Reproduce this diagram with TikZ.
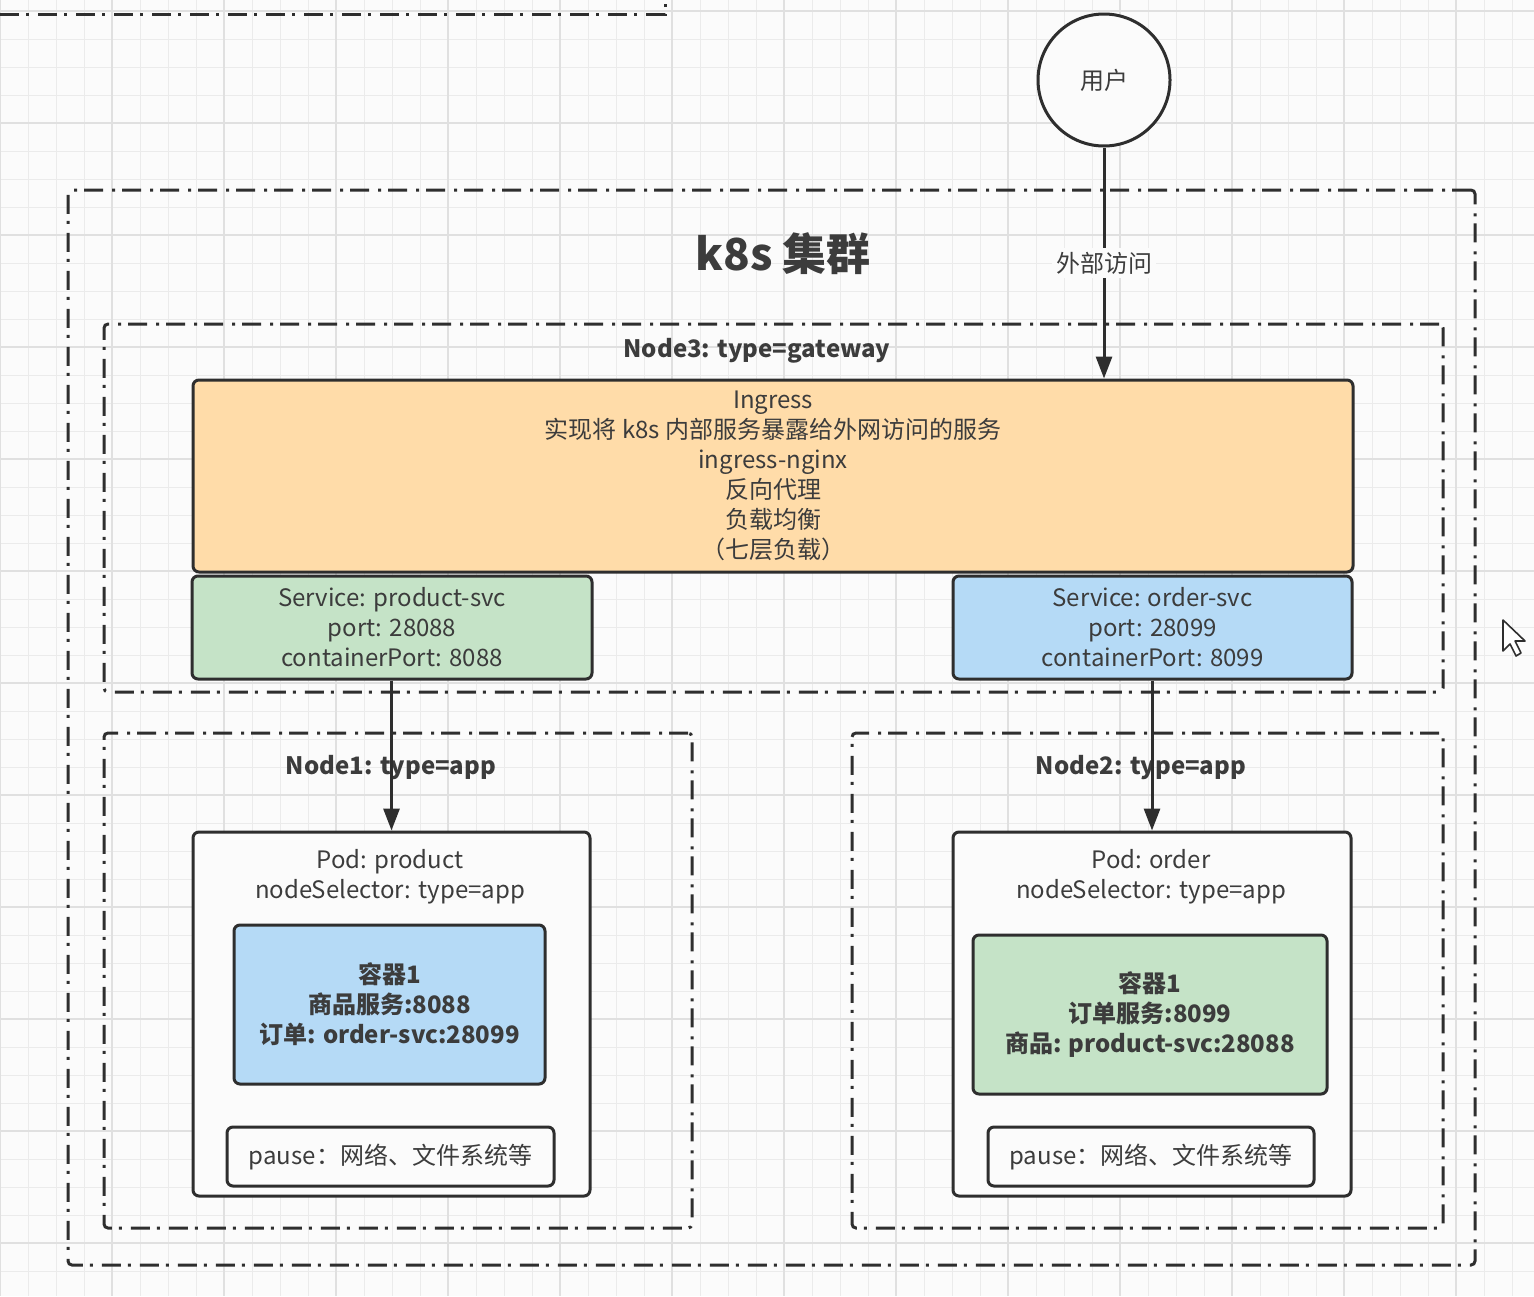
\documentclass[tikz,border=0pt]{standalone}
\usepackage{fontspec}
\setmainfont{Noto Sans CJK SC}
\usetikzlibrary{arrows.meta}
\definecolor{bgcol}{HTML}{FBFBFB}
\definecolor{gridminor}{HTML}{EBEBEB}
\definecolor{gridmajor}{HTML}{E0E0E0}
\definecolor{ink}{HTML}{2E2E2E}
\definecolor{txt}{HTML}{3C3C3C}
\definecolor{peach}{HTML}{FFDCA9}
\definecolor{mint}{HTML}{C5E3C7}
\definecolor{sky}{HTML}{B5DAF6}
\tikzset{
  body/.style={font=\fontsize{12}{15}\selectfont, text=txt, align=center},
  boldbody/.style={font=\fontsize{12}{15}\selectfont\bfseries, text=txt, align=center},
  boldlabel/.style={font=\fontsize{12}{15}\selectfont\bfseries, text=txt, align=center, inner sep=0pt},
  solidbox/.style={draw=ink, line width=1.5pt, rounded corners=3pt, inner sep=0pt, body},
  zone/.style={draw=ink, line width=1.5pt, rounded corners=2pt, inner sep=0pt,
    dash pattern=on 9.5pt off 3.5pt on 1.5pt off 4.5pt},
  link/.style={draw=ink, line width=1.5pt, -{Triangle[length=11pt,width=8pt]}},
}
\begin{document}
\begin{tikzpicture}[x=0.5pt,y=-0.5pt]
\useasboundingbox (0,0) rectangle (1534,1296);
\fill[bgcol] (0,0) rectangle (1534,1296);
% background grid
\foreach \i in {0,...,54} \draw[gridminor, line width=0.5pt] (28*\i,0) -- (28*\i,1296);
\foreach \j in {0,...,46} \draw[gridminor, line width=0.5pt] (0,11+28*\j) -- (1534,11+28*\j);
\foreach \i in {0,...,13} \draw[gridmajor, line width=0.6pt] (112*\i,0) -- (112*\i,1296);
\foreach \j in {0,...,11} \draw[gridmajor, line width=0.6pt] (0,11+112*\j) -- (1534,11+112*\j);

% edge of a neighbouring frame
\draw[ink, line width=1.5pt, dash pattern=on 9.5pt off 3.5pt on 1.5pt off 4.5pt] (0,14) -- (665,14) -- (665,0);

% cluster and machines
\node[zone, minimum width=703.5pt, minimum height=537.5pt] (cluster) at (771.5,727.5) {};
\node[font=\fontsize{22}{24}\selectfont\bfseries, text=txt, inner sep=0pt] (title) at (783,254) {k8s 集群};

\node[zone, minimum width=669.5pt, minimum height=184pt] (node3) at (773.5,508) {};
\node[boldlabel] (node3lbl) at (757,351) {Node3: type=gateway};

\node[zone, minimum width=294pt, minimum height=247.5pt] (node1) at (398,980.5) {};
\node[zone, minimum width=295.5pt, minimum height=247.5pt] (node2) at (1147.5,980.5) {};

% user
\node[circle, draw=ink, line width=1.5pt, fill=bgcol, minimum size=66pt, inner sep=0pt, body] (user) at (1104,80) {用户};

% gateway
\node[solidbox, fill=peach, minimum width=580pt, minimum height=96pt] (ing) at (773,476)
  {Ingress\\实现将 k8s 内部服务暴露给外网访问的服务\\ingress-nginx\\反向代理\\负载均衡\\（七层负载）};
\node[solidbox, fill=mint, minimum width=200pt, minimum height=51.5pt] (svcp) at (392,627.5)
  {Service: product-svc\\port: 28088\\containerPort: 8088};
\node[solidbox, fill=sky, minimum width=199.5pt, minimum height=51.5pt] (svco) at (1152.5,627.5)
  {Service: order-svc\\port: 28099\\containerPort: 8099};

% pods
\node[solidbox, fill=bgcol, minimum width=198.5pt, minimum height=182pt] (podp) at (391.5,1014) {};
\node[body, inner sep=0pt] (podptxt) at (390,877) {Pod: product\\nodeSelector: type=app};
\node[solidbox, fill=sky, minimum width=155.5pt, minimum height=79.5pt, boldbody] (ctp) at (389.5,1004.5)
  {容器1\\商品服务:8088\\订单: order-svc:28099};
\node[solidbox, fill=bgcol, minimum width=163.5pt, minimum height=29.5pt] (pausep) at (390.5,1156.5)
  {pause：网络、文件系统等};

\node[solidbox, fill=bgcol, minimum width=199pt, minimum height=182pt] (podo) at (1152,1014) {};
\node[body, inner sep=0pt] (podotxt) at (1151,877) {Pod: order\\nodeSelector: type=app};
\node[solidbox, fill=mint, minimum width=177pt, minimum height=79.5pt, boldbody] (cto) at (1150,1014.5)
  {容器1\\订单服务:8099\\商品: product-svc:28088};
\node[solidbox, fill=bgcol, minimum width=163pt, minimum height=29.5pt] (pauseo) at (1151,1156.5)
  {pause：网络、文件系统等};

% machine labels
\node[boldlabel] (node1lbl) at (391,768) {Node1: type=app};
\node[boldlabel] (node2lbl) at (1141,768) {Node2: type=app};

% connectors
\draw[link] (user.south) -- (user.south |- ing.north)
  node[midway, fill=bgcol, body, inner sep=2pt] (extlbl) {外部访问};
\draw[link] (svcp.south -| podp.north) -- (podp.north);
\draw[link] (svco.south -| podo.north) -- (podo.north);

% mouse pointer
\draw[ink, fill=white, line width=0.8pt, line join=round]
  (1503,620) -- (1503,651) -- (1510,644) -- (1516,656) -- (1521,653) -- (1515,641) -- (1525,641) -- cycle;
\end{tikzpicture}
\end{document}
